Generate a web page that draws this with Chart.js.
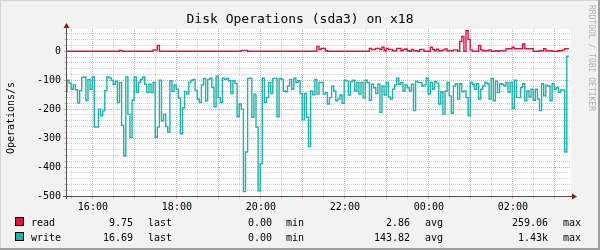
<!DOCTYPE html>
<html>
<head>
<meta charset="utf-8">
<script src="https://cdn.jsdelivr.net/npm/chart.js@4.4.1/dist/chart.umd.min.js"></script>
<style>
  html, body { margin: 0; padding: 0; background: #f2f2f2; }
  #wrap { width: 600px; height: 250px; }
</style>
</head>
<body>
<div id="wrap"><canvas id="disk-ops" width="600" height="250"></canvas></div>
<script>
// --- data: 3 minute samples from 15:23 to 03:23 (x = minutes after 15:00) ---
const startMinute = 23;
const stepMinutes = 3;

const readOps = [
  0,0,0,0,0,0,0,0,0,0,
  0,0,0,0,0,0,0,0,0,0,
  0,0,0,0,0,0,3,0,0,0,
  0,0,0,0,0,0,0,0,0,0,
  0,0,5,4,20,0,0,0,0,0,
  0,0,0,0,0,0,0,0,0,0,
  0,0,0,0,0,0,0,0,0,0,
  0,0,0,0,0,0,0,0,0,0,
  0,0,0,0,3,3,3,0,0,0,
  0,0,0,0,0,0,0,0,0,0,
  0,0,0,0,0,0,0,0,0,0,
  0,0,0,0,0,0,0,0,0,0,
  17,6,10,10,2,0,0,0,0,0,
  0,0,0,0,0,0,0,0,0,0,
  0,0,0,0,0,10,6,6,10,10,
  6,14,2,10,6,6,2,2,10,10,
  2,6,8,2,0,6,2,2,0,6,
  6,0,0,0,14,6,2,7,2,2,
  5,8,2,2,2,5,5,0,34,51,
  0,71,41,5,0,0,0,20,5,2,
  2,2,5,0,0,2,0,2,2,2,
  8,9,9,14,9,9,9,9,25,9,
  9,9,9,0,0,0,2,2,9,2,
  2,2,0,0,0,2,2,5,9,9
];

// write is drawn mirrored below zero
const writeOps = [
  143,100,110,131,116,133,179,136,90,89,
  170,97,131,89,262,262,200,223,206,136,
  89,92,100,114,103,177,108,256,362,89,
  217,297,169,89,143,108,97,89,114,143,
  114,143,108,297,262,100,240,217,260,280,
  102,139,116,131,162,285,196,139,148,108,
  100,97,135,165,177,116,94,171,97,93,
  125,192,86,160,177,93,97,94,102,146,
  102,112,226,182,200,485,348,94,93,228,
  148,262,482,388,93,177,160,108,146,94,
  94,226,94,97,137,140,120,97,131,93,
  108,102,146,237,146,228,329,137,150,97,
  148,108,108,148,143,182,160,120,137,171,
  165,151,180,100,103,151,105,100,137,108,
  148,108,162,100,108,169,114,126,146,114,
  211,120,151,108,158,165,131,116,93,114,
  108,137,116,126,137,114,205,103,108,108,
  120,116,93,148,108,131,105,110,182,140,
  217,137,108,154,214,120,112,165,112,140,
  137,160,223,108,114,131,112,165,131,120,
  108,112,165,94,171,103,143,112,114,120,
  108,142,108,197,100,160,160,125,112,171,
  137,157,131,169,131,165,205,112,154,117,
  120,171,112,131,125,142,134,134,348,17
];

const legendNames = ['read', 'write'];
const legendColors = ['#dc143c', '#20b2aa'];
const lastValues = ['9.75', '16.69'];
const minValues = ['0.00', '0.00'];
const avgValues = ['2.86', '143.82'];
const maxValues = ['259.06', '1.43k'];

const yMin = -500;
const yMax = 77;
const xMin = 23;   // 15:23
const xMax = 743;  // 03:23

const MONO = '"DejaVu Sans Mono", monospace';
const MAJOR_GRID = 'rgba(240, 90, 90, 0.55)';
const MINOR_GRID = 'rgba(150, 150, 150, 0.45)';

function minuteToLabel(v) {
    const h = Math.floor(15 + v / 60) % 24;
    return String(h).padStart(2, '0') + ':00';
}

// grid positions: every `step` between the bounds
function ticksEvery(lo, hi, step) {
    const out = [];
    for (let v = Math.ceil(lo / step) * step; v <= hi; v += step) out.push({ value: v });
    return out;
}

const readPoints = readOps.map((v, i) => ({ x: startMinute + i * stepMinutes, y: v }));
const writePoints = writeOps.map((v, i) => ({ x: startMinute + i * stepMinutes, y: -v }));

// --- background, frame, axes arrows and text ---
const rrdDecor = {
    id: 'rrdDecor',
    beforeDraw(chart) {
        const ctx = chart.ctx;
        const a = chart.chartArea;
        ctx.save();
        ctx.fillStyle = '#f2f2f2';
        ctx.fillRect(0, 0, 600, 250);
        // 3d frame
        ctx.fillStyle = '#d4d4d4';
        ctx.fillRect(0, 0, 600, 1);
        ctx.fillRect(0, 0, 1, 250);
        ctx.fillStyle = '#9e9e9e';
        ctx.fillRect(598, 0, 2, 250);
        ctx.fillRect(0, 248, 600, 2);
        ctx.fillStyle = '#ffffff';
        ctx.fillRect(a.left, a.top, a.right - a.left, a.bottom - a.top);
        ctx.restore();
    },
    afterDraw(chart) {
        const ctx = chart.ctx;
        const a = chart.chartArea;
        ctx.save();

        // axes
        ctx.strokeStyle = '#505050';
        ctx.lineWidth = 1;
        ctx.beginPath();
        ctx.moveTo(a.left - 0.5, a.bottom + 3);
        ctx.lineTo(a.left - 0.5, a.top - 3);
        ctx.moveTo(a.left - 4, a.bottom + 0.5);
        ctx.lineTo(a.right + 3, a.bottom + 0.5);
        ctx.stroke();

        ctx.fillStyle = '#7f1f1f';
        ctx.beginPath();
        ctx.moveTo(a.left - 0.5, a.top - 6);
        ctx.lineTo(a.left - 3.5, a.top - 1);
        ctx.lineTo(a.left + 2.5, a.top - 1);
        ctx.closePath();
        ctx.fill();
        ctx.beginPath();
        ctx.moveTo(a.right + 6, a.bottom + 0.5);
        ctx.lineTo(a.right + 1, a.bottom - 2.5);
        ctx.lineTo(a.right + 1, a.bottom + 3.5);
        ctx.closePath();
        ctx.fill();

        // title
        ctx.fillStyle = '#000';
        ctx.font = '13px ' + MONO;
        ctx.textAlign = 'center';
        ctx.textBaseline = 'middle';
        ctx.fillText('Disk Operations (sda3) on x18', 300, 20);

        // y axis title
        ctx.font = '10px ' + MONO;
        ctx.save();
        ctx.translate(11, 118);
        ctx.rotate(-Math.PI / 2);
        ctx.fillText('Operations/s', 0, 0);
        ctx.restore();

        // credit on the right
        ctx.save();
        ctx.fillStyle = '#b0b0b0';
        ctx.font = '8px ' + MONO;
        ctx.translate(591, 5);
        ctx.rotate(Math.PI / 2);
        ctx.textAlign = 'left';
        ctx.fillText('RRDTOOL / TOBI OETIKER', 0, 0);
        ctx.restore();

        // legend rows
        ctx.font = '10px ' + MONO;
        const rowY = [223, 238];
        legendNames.forEach((name, i) => {
            const y = rowY[i];
            ctx.fillStyle = legendColors[i];
            ctx.fillRect(15.5, y - 5.5, 8, 8);
            ctx.strokeStyle = '#000';
            ctx.strokeRect(15.5, y - 5.5, 8, 8);

            ctx.fillStyle = '#000';
            ctx.textAlign = 'left';
            ctx.fillText(name, 31, y);
            ctx.textAlign = 'right';
            ctx.fillText(lastValues[i], 133, y);
            ctx.fillText(minValues[i], 272, y);
            ctx.fillText(avgValues[i], 410, y);
            ctx.fillText(maxValues[i], 548, y);
            ctx.textAlign = 'left';
            ctx.fillText('last', 148, y);
            ctx.fillText('min', 286, y);
            ctx.fillText('avg', 425, y);
            ctx.fillText('max', 563, y);
        });
        ctx.restore();
    }
};

new Chart(document.getElementById('disk-ops'), {
    type: 'line',
    data: {
        datasets: [
            { label: 'read', data: readPoints, borderColor: legendColors[0], borderWidth: 1.4, stepped: 'after', pointRadius: 0, fill: false },
            { label: 'write', data: writePoints, borderColor: legendColors[1], borderWidth: 1.4, stepped: 'after', pointRadius: 0, fill: false }
        ]
    },
    options: {
        responsive: false,
        devicePixelRatio: 1,
        animation: false,
        layout: { padding: { top: 29, right: 29, left: 0, bottom: 0 } },
        plugins: { legend: { display: false }, title: { display: false }, tooltip: { enabled: false } },
        scales: {
            x: {
                type: 'linear',
                min: xMin,
                max: xMax,
                afterFit: s => { s.height = 54; },
                afterBuildTicks: s => { s.ticks = ticksEvery(xMin, xMax, 30); },
                ticks: {
                    autoSkip: false,
                    maxRotation: 0,
                    padding: 2,
                    color: '#000',
                    font: { family: MONO, size: 10 },
                    callback: v => ((v - 60) % 120 === 0 ? minuteToLabel(v) : '')
                },
                grid: {
                    color: c => (c.tick && c.tick.value % 60 === 0 ? MAJOR_GRID : MINOR_GRID),
                    tickColor: c => (c.tick && c.tick.value % 60 === 0 ? MAJOR_GRID : MINOR_GRID),
                    tickLength: 3,
                    lineWidth: 1
                },
                border: { display: false, dash: [1, 1] }
            },
            y: {
                min: yMin,
                max: yMax,
                afterFit: s => { s.width = 67; },
                afterBuildTicks: s => { s.ticks = ticksEvery(yMin, yMax, 20); },
                ticks: {
                    autoSkip: false,
                    padding: 3,
                    color: '#000',
                    font: { family: MONO, size: 10 },
                    callback: v => (v % 100 === 0 ? String(v) : '')
                },
                grid: {
                    color: c => (c.tick && c.tick.value % 100 === 0 ? MAJOR_GRID : MINOR_GRID),
                    tickColor: c => (c.tick && c.tick.value % 100 === 0 ? MAJOR_GRID : MINOR_GRID),
                    tickLength: 3,
                    lineWidth: 1
                },
                border: { display: false, dash: [1, 1] }
            }
        }
    },
    plugins: [rrdDecor]
});
</script>
</body>
</html>
